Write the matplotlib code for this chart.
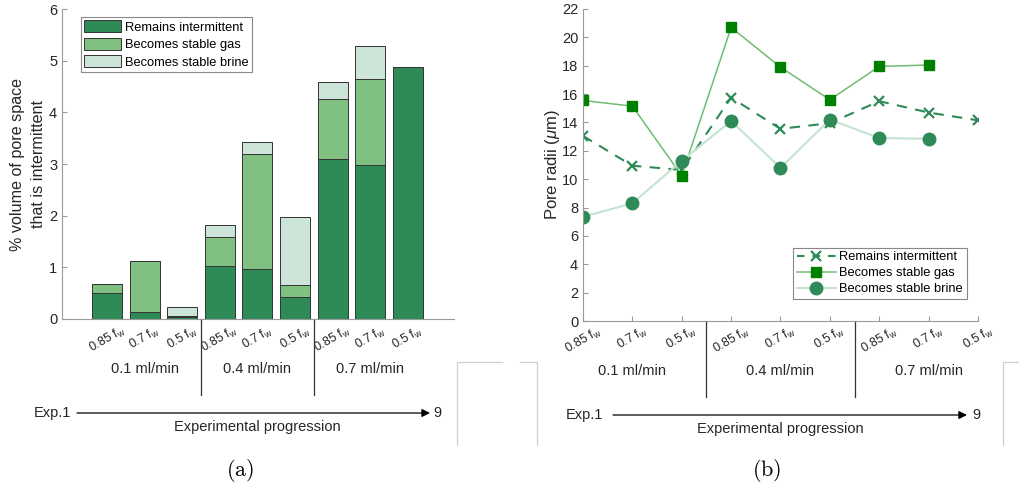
import matplotlib.pyplot as plt
from matplotlib.lines import Line2D
import matplotlib.transforms as mtransforms
import numpy as np

plt.rcParams['font.family'] = ['Liberation Sans', 'DejaVu Sans']
plt.rcParams['mathtext.fontset'] = 'custom'
plt.rcParams['mathtext.rm'] = 'Liberation Sans'
plt.rcParams['mathtext.it'] = 'Liberation Sans:italic'

# data
fw_labels = ['0.85', '0.7', '0.5'] * 3
flow_rates = ['0.1 ml/min', '0.4 ml/min', '0.7 ml/min']
experiments = np.arange(1, 10)

# (a) % volume of pore space that is intermittent
remains_intermittent = [0.50, 0.13, 0.03, 1.02, 0.97, 0.42, 3.10, 2.98, 4.87]
becomes_stable_gas = [0.17, 0.99, 0.02, 0.57, 2.23, 0.23, 1.15, 1.66, 0.0]
becomes_stable_brine = [0.0, 0.01, 0.18, 0.23, 0.22, 1.32, 0.33, 0.64, 0.0]

# (b) pore radii (um)
radii_intermittent = [13.05, 10.95, 10.65, 15.75, 13.55, 13.95, 15.5, 14.7, 14.15]
radii_gas = [15.55, 15.15, 10.25, 20.7, 17.9, 15.6, 17.95, 18.05, np.nan]
radii_brine = [7.35, 8.3, 11.3, 14.1, 10.8, 14.2, 12.9, 12.85, np.nan]

dark = '#2E8B57'
mid = '#80C080'
light = '#CCE5D8'
axcol = '#9A9A9A'
txtcol = '#262626'

W, H = 1020, 486
fig = plt.figure(figsize=(W / 100, H / 100), dpi=100)

def fx(px):
    return px / W

def fy(py):
    return 1 - py / H

ax1 = fig.add_axes([fx(62), fy(319), fx(454) - fx(62), fy(9) - fy(319)])
ax2 = fig.add_axes([fx(583), fy(321), fx(978) - fx(583), fy(9) - fy(321)])

tick_labels = [r'%s f$_\mathrm{w}$' % s for s in fw_labels]

# ---- (a) stacked bars
bottom2 = np.array(remains_intermittent)
bottom3 = bottom2 + np.array(becomes_stable_gas)
kw = dict(width=0.8, edgecolor='#333333', linewidth=0.7)
ax1.bar(experiments, remains_intermittent, color=dark, label='Remains intermittent', **kw)
ax1.bar(experiments, becomes_stable_gas, bottom=bottom2, color=mid, label='Becomes stable gas', **kw)
ax1.bar(experiments, becomes_stable_brine, bottom=bottom3, color=light, label='Becomes stable brine', **kw)
ax1.set_xlim(-0.2, 10.23)
ax1.set_ylim(0, 6)
ax1.set_xticks(experiments)
ax1.set_xticklabels(tick_labels, rotation=30, ha='center', color=txtcol)
ax1.tick_params(axis='x', length=0, pad=3)
ax1.set_ylabel('% volume of pore space\nthat is intermittent', fontsize=11.6, color=txtcol,
               labelpad=2, linespacing=1.5)
leg1 = ax1.legend(loc='upper left', bbox_to_anchor=(0.0485, 0.974), borderaxespad=0,
                  fancybox=False, framealpha=1, edgecolor='#888888', fontsize=9.3,
                  handlelength=2.85, handleheight=1.05, labelspacing=0.32,
                  borderpad=0.25, handletextpad=0.3)
leg1.get_frame().set_linewidth(0.8)

# ---- (b) lines
ax2.plot(experiments, radii_intermittent, '--', color=dark, lw=1.5, dashes=(5, 4),
         marker='x', ms=7, mew=1.6, label='Remains intermittent')
ax2.plot(experiments, radii_gas, '-', color='#70BC70', lw=1.1, marker='s', ms=7,
         mfc='#008000', mec='#008000', label='Becomes stable gas')
ax2.plot(experiments, radii_brine, '-', color='#C5E3D2', lw=1.5, marker='o', ms=9,
         mfc=dark, mec=dark, label='Becomes stable brine')
ax2.set_xlim(1, 9)
ax2.set_ylim(0, 22)
ax2.set_yticks(range(0, 23, 2))
ax2.set_xticks(experiments)
ax2.set_xticklabels(tick_labels, rotation=30, ha='center', color=txtcol)
ax2.tick_params(axis='x', pad=2)
ax2.set_ylabel(r'Pore radii ($\mu$m)', fontsize=12, color=txtcol, labelpad=0)
leg2 = ax2.legend(loc='lower right', bbox_to_anchor=(0.972, 0.07), borderaxespad=0,
                  fancybox=False, framealpha=1, edgecolor='#888888', fontsize=9.3,
                  handlelength=3.0, labelspacing=0.3, borderpad=0.3, handletextpad=0.3)
leg2.get_frame().set_linewidth(0.8)
# symmetric "- x -" look for the dashed legend handle
leg2.get_lines()[0].set_dashes((3.6, 3.84))

for ax in (ax1, ax2):
    ax.spines['top'].set_visible(False)
    ax.spines['right'].set_visible(False)
    ax.spines['left'].set_color(axcol)
    ax.spines['bottom'].set_color(axcol)
    ax.tick_params(direction='in', colors=axcol, labelcolor=txtcol, labelsize=10.5)
    ax.tick_params(axis='x', labelsize=9)
    ax.set_facecolor('none')
    trans = mtransforms.blended_transform_factory(ax.transData, ax.transAxes)
    for xs in (3.5, 6.5):
        ax.plot([xs, xs], [0, -0.245], transform=trans, clip_on=False, color='#333333', lw=0.9)
    for xc, lab in zip((2, 5, 8), flow_rates):
        ax.text(xc, -0.16, lab, transform=trans, ha='center', va='center', fontsize=10.5, color=txtcol)

# experimental progression arrows
for x0, x1, xe, x9, xc, ya, lab, xl in [(77, 430, 71, 433, 257, 413, 'a', 240),
                                         (613, 967, 603, 972, 780, 415, 'b', 767)]:
    fig.add_artist(plt.Annotation('', xy=(fx(x1), fy(ya)), xytext=(fx(x0), fy(ya)),
                                  xycoords='figure fraction', textcoords='figure fraction',
                                  arrowprops=dict(arrowstyle='-|>', color='black', lw=0.9,
                                                  mutation_scale=12, shrinkA=0, shrinkB=0)))
    fig.text(fx(xe), fy(ya), 'Exp.1', ha='right', va='center', fontsize=10.5, color=txtcol)
    fig.text(fx(x9), fy(ya), '9', ha='left', va='center', fontsize=10.5, color=txtcol)
    fig.text(fx(xc), fy(ya + 14), 'Experimental progression', ha='center', va='center',
             fontsize=10.5, color=txtcol)
    fig.text(fx(xl), fy(470), r'$\mathrm{(%s)}$' % lab, ha='center', va='center',
             fontsize=16, math_fontfamily='cm')

# faint frame remnants
gray = '#CFCFCF'
for xs, ys in [((502, 457, 457), (362, 362, 445)),
               ((520, 537, 537), (362, 362, 445)),
               ((1020, 1003, 1003), (362, 362, 445))]:
    fig.add_artist(Line2D([fx(x) for x in xs], [fy(y) for y in ys], color=gray, lw=0.9))

fig.savefig('out.png', dpi=100)
